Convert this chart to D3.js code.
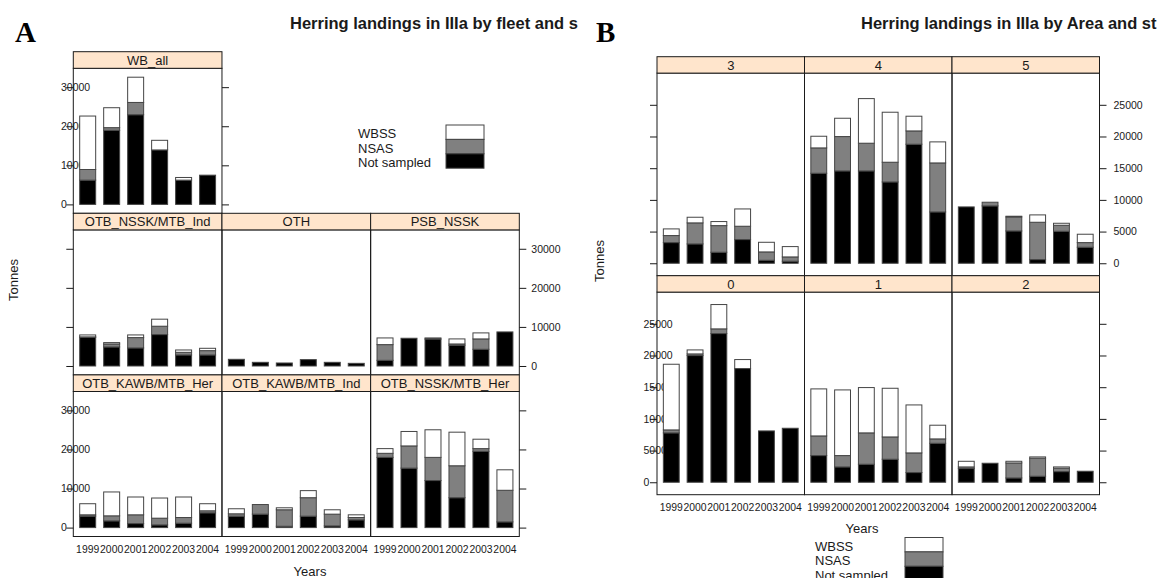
<!DOCTYPE html>
<html>
<head>
<meta charset="utf-8">
<script src="https://cdn.jsdelivr.net/npm/d3@7"></script>
<style>
  html, body { margin: 0; padding: 0; background: #ffffff; }
  svg { display: block; font-family: "Liberation Sans", Arial, Helvetica, sans-serif; }
</style>
</head>
<body>
<svg id="chart" width="1160" height="578"></svg>
<script>
// ---- data ---------------------------------------------------------------
const years = ["1999", "2000", "2001", "2002", "2003", "2004"];
const stockNames = ["Not sampled", "NSAS", "WBSS"];          // stacking order, bottom to top
const stockColors = ["#000000", "#808080", "#ffffff"];

// Landings (tonnes) by fleet
const fleetNames = ["WB_all", "OTB_NSSK/MTB_Ind", "OTH", "PSB_NSSK",
                    "OTB_KAWB/MTB_Her", "OTB_KAWB/MTB_Ind", "OTB_NSSK/MTB_Her"];
const fleetNotSampled = [
  [6210, 18960, 22950, 13940, 6210, 7480],
  [7350, 4870, 4620, 8040, 2820, 2820],
  [1710, 940, 770, 1630, 940, 680],
  [1450, 7100, 6900, 5300, 4280, 8720],
  [2920, 1720, 1030, 690, 1120, 3780],
  [2920, 3440, 340, 2920, 430, 1980],
  [17970, 15220, 12040, 7650, 19520, 1460]
];
const fleetNSAS = [
  [2720, 680, 3140, 0, 0, 0],
  [100, 770, 2650, 2140, 680, 1110],
  [0, 0, 0, 0, 0, 0],
  [4020, 0, 280, 340, 2650, 0],
  [350, 1290, 2240, 1720, 1460, 520],
  [610, 2460, 4220, 4730, 3010, 600],
  [1040, 5680, 5930, 8170, 690, 8090]
];
const fleetWBSS = [
  [13680, 5100, 6460, 2460, 680, 0],
  [500, 350, 680, 1800, 600, 600],
  [0, 0, 0, 0, 0, 0],
  [1710, 0, 0, 1290, 1540, 0],
  [2840, 6110, 4560, 5160, 5250, 1810],
  [1290, 0, 510, 1810, 1120, 690],
  [1200, 3700, 7060, 8600, 2410, 5240]
];
const fleetTicks = [0, 10000, 20000, 30000];

// Landings (tonnes) by area
const areaNames = ["3", "4", "5", "0", "1", "2"];
const areaNotSampled = [
  [3260, 3050, 1740, 3740, 470, 320],
  [14200, 14570, 14570, 12830, 18780, 8100],
  [8890, 9050, 5100, 580, 5050, 2530],
  [7790, 19990, 23460, 17940, 8100, 8520],
  [4210, 2420, 2840, 3630, 1530, 6150],
  [2160, 3000, 680, 950, 1680, 1740]
];
const areaNSAS = [
  [1110, 3320, 4200, 2100, 1320, 680],
  [4000, 5420, 4370, 3110, 2100, 7730],
  [0, 580, 2210, 5890, 950, 730],
  [470, 260, 740, 0, 0, 0],
  [3100, 1790, 4950, 3520, 3100, 690],
  [260, 0, 2370, 2840, 530, 0]
];
const areaWBSS = [
  [1050, 890, 640, 2730, 1520, 1630],
  [1840, 2890, 7040, 7890, 2320, 3320],
  [0, 0, 110, 1160, 310, 1320],
  [10360, 630, 3840, 1420, 0, 0],
  [7420, 10360, 7150, 7680, 7570, 2160],
  [890, 0, 260, 210, 210, 0]
];
const areaTicks = [0, 5000, 10000, 15000, 20000, 25000];

// ---- drawing --------------------------------------------------------------
const svg = d3.select("#chart");
const INK = "#1a1a1a";
const BAR_EDGE = "#454545";

function buildRows(ns, nsas, wbss) {
  return years.map((y, i) => ({
    year: y,
    "Not sampled": ns[i],
    "NSAS": nsas[i],
    "WBSS": wbss[i]
  }));
}

function drawLattice(g, o) {
  const tables = o.names.map((n, k) => buildRows(o.ns[k], o.nsas[k], o.wbss[k]));
  const stack = d3.stack().keys(stockNames);
  const stacked = tables.map(t => stack(t));
  const maxTotal = d3.max(stacked, s => d3.max(s[s.length - 1], d => d[1]));
  const pad = 0.07 * maxTotal;

  const rowTop = r => o.top + r * (o.stripH + o.bodyH);
  const yFor = r => d3.scaleLinear()
    .domain([-pad, maxTotal + pad])
    .range([rowTop(r) + o.stripH + o.bodyH, rowTop(r) + o.stripH]);
  const xFor = c => d3.scaleBand()
    .domain(years)
    .range([o.left + c * o.panelW, o.left + (c + 1) * o.panelW])
    .paddingInner(1 / 3)
    .paddingOuter(0.8 / 3);

  const nRows = d3.max(o.pos, p => p[0]) + 1;
  const axesLayer = g.append("g");
  const barLayer = g.append("g");
  const frameLayer = g.append("g");

  // y axes: one per row, on the outer sides, labels alternating from the bottom row
  for (let r = 0; r < nRows; r++) {
    const cols = o.pos.filter(p => p[0] === r).map(p => p[1]);
    const cMin = d3.min(cols), cMax = d3.max(cols);
    const y = yFor(r);
    const labelsLeft = (nRows - 1 - r) % 2 === 0;
    const xl = o.left + cMin * o.panelW;
    const xr = o.left + (cMax + 1) * o.panelW;

    const leftAxis = d3.axisLeft(y).tickValues(o.ticks).tickSize(7).tickFormat("");
    const la = axesLayer.append("g").attr("transform", `translate(${xl},0)`).call(leftAxis);
    const rightAxis = d3.axisRight(y).tickValues(o.ticks).tickSize(7).tickFormat("");
    const ra = axesLayer.append("g").attr("transform", `translate(${xr},0)`).call(rightAxis);
    [la, ra].forEach(a => {
      a.select(".domain").remove();
      a.selectAll(".tick line").attr("stroke", INK).attr("stroke-width", 1);
    });

    axesLayer.append("g").selectAll("text")
      .data(o.ticks)
      .join("text")
      .attr("x", labelsLeft ? o.leftLabelX : xr + o.rightLabelGap)
      .attr("y", d => y(d))
      .attr("dy", "0.36em")
      .attr("text-anchor", "start")
      .attr("font-size", 10.5)
      .attr("fill", INK)
      .text(d => d);
  }

  // panels
  o.names.forEach((name, k) => {
    const [r, c] = o.pos[k];
    const x = xFor(c), y = yFor(r);
    const x0 = o.left + c * o.panelW;
    const top = rowTop(r);

    stacked[k].forEach((layer, li) => {
      barLayer.append("g").selectAll("rect")
        .data(layer.filter(d => d[1] > d[0]))
        .join("rect")
        .attr("x", d => x(d.data.year))
        .attr("width", x.bandwidth())
        .attr("y", d => y(d[1]))
        .attr("height", d => y(d[0]) - y(d[1]))
        .attr("fill", stockColors[li])
        .attr("stroke", BAR_EDGE)
        .attr("stroke-width", 1);
    });

    frameLayer.append("rect")
      .attr("x", x0).attr("y", top + o.stripH)
      .attr("width", o.panelW).attr("height", o.bodyH)
      .attr("fill", "none").attr("stroke", INK).attr("stroke-width", 1);
    frameLayer.append("rect")
      .attr("x", x0).attr("y", top)
      .attr("width", o.panelW).attr("height", o.stripH)
      .attr("fill", "#ffe5cc").attr("stroke", INK).attr("stroke-width", 1);
    frameLayer.append("text")
      .attr("x", x0 + o.panelW / 2).attr("y", top + o.stripH / 2)
      .attr("dy", "0.36em").attr("text-anchor", "middle")
      .attr("font-size", 13).attr("fill", INK)
      .text(name);

    if (r === nRows - 1) {
      barLayer.append("g").selectAll("text")
        .data(years)
        .join("text")
        .attr("x", d => x(d) + x.bandwidth() / 2)
        .attr("y", top + o.stripH + o.bodyH + o.xLabelGap)
        .attr("dy", "0.36em")
        .attr("text-anchor", "middle")
        .attr("font-size", 10.4)
        .attr("fill", INK)
        .text(d => d);
    }
  });
}

function drawKey(g, textX, rectX, rectW, top, segH) {
  const order = stockNames.slice().reverse();
  const colors = stockColors.slice().reverse();
  order.forEach((s, i) => {
    g.append("rect")
      .attr("x", rectX).attr("y", top + i * segH)
      .attr("width", rectW).attr("height", segH)
      .attr("fill", colors[i]).attr("stroke", BAR_EDGE).attr("stroke-width", 1);
    g.append("text")
      .attr("x", textX).attr("y", top + i * segH + segH / 2 + 1.5)
      .attr("dy", "0.36em").attr("font-size", 13).attr("fill", INK)
      .text(s);
  });
}

// ---- panel A: by fleet ----------------------------------------------------
svg.append("defs").append("clipPath").attr("id", "halfA")
  .append("rect").attr("x", 0).attr("y", 0).attr("width", 580).attr("height", 578);
const gA = svg.append("g").attr("clip-path", "url(#halfA)");

drawLattice(gA, {
  names: fleetNames, ns: fleetNotSampled, nsas: fleetNSAS, wbss: fleetWBSS,
  pos: [[0, 0], [1, 0], [1, 1], [1, 2], [2, 0], [2, 1], [2, 2]],
  ticks: fleetTicks,
  left: 73.3, panelW: 148.67, top: 51.7, stripH: 16.6, bodyH: 145,
  leftLabelX: 61, rightLabelGap: 12, xLabelGap: 13
});
drawKey(gA, 358, 446, 38, 125, 14.4);

// the page title runs past the right edge of this half and is cut there
gA.append("text").attr("x", 290).attr("y", 29)
  .attr("font-size", 16.5).attr("font-weight", "bold").attr("fill", INK)
  .text("Herring landings in IIIa by fleet and s");
gA.append("text").attr("x", 15).attr("y", 42)
  .attr("font-family", "'Liberation Serif', 'Times New Roman', serif")
  .attr("font-size", 29).attr("font-weight", "bold").attr("fill", "#000")
  .text("A");
gA.append("text").attr("transform", "translate(13,280) rotate(-90)")
  .attr("text-anchor", "middle").attr("dy", "0.36em")
  .attr("font-size", 13).attr("fill", INK).text("Tonnes");
gA.append("text").attr("x", 310).attr("y", 571).attr("dy", "0.36em")
  .attr("text-anchor", "middle").attr("font-size", 13).attr("fill", INK).text("Years");

// ---- panel B: by area -----------------------------------------------------
const gB = svg.append("g");
drawLattice(gB, {
  names: areaNames, ns: areaNotSampled, nsas: areaNSAS, wbss: areaWBSS,
  pos: [[0, 0], [0, 1], [0, 2], [1, 0], [1, 1], [1, 2]],
  ticks: areaTicks,
  left: 657, panelW: 147.5, top: 56.7, stripH: 16.4, bodyH: 202.6,
  leftLabelX: 643.5, rightLabelGap: 14, xLabelGap: 12.5
});
drawKey(gB, 815, 905, 38, 537.5, 14.4);

gB.append("text").attr("x", 861).attr("y", 29)
  .attr("font-size", 16.5).attr("font-weight", "bold").attr("fill", INK)
  .text("Herring landings in IIIa by Area and st");
gB.append("text").attr("x", 596).attr("y", 42)
  .attr("font-family", "'Liberation Serif', 'Times New Roman', serif")
  .attr("font-size", 29).attr("font-weight", "bold").attr("fill", "#000")
  .text("B");
gB.append("text").attr("transform", "translate(599,261) rotate(-90)")
  .attr("text-anchor", "middle").attr("dy", "0.36em")
  .attr("font-size", 13).attr("fill", INK).text("Tonnes");
gB.append("text").attr("x", 862).attr("y", 528).attr("dy", "0.36em")
  .attr("text-anchor", "middle").attr("font-size", 13).attr("fill", INK).text("Years");
</script>
</body>
</html>
